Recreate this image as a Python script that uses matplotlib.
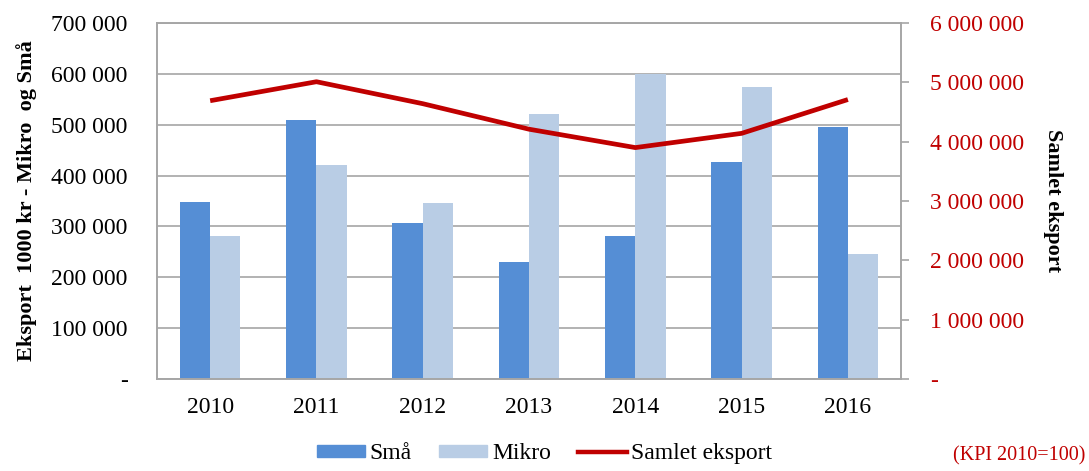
import matplotlib
matplotlib.use("Agg")
import matplotlib.pyplot as plt
import numpy as np
from matplotlib.ticker import FuncFormatter, FixedLocator
from matplotlib.patches import Patch
from matplotlib.lines import Line2D

years = ["2010", "2011", "2012", "2013", "2014", "2015", "2016"]
sma = [349000, 509000, 306000, 231000, 281000, 426000, 496000]
mikro = [282000, 420000, 346000, 521000, 600000, 575000, 245000]
samlet = [4690000, 5010000, 4640000, 4210000, 3900000, 4140000, 4710000]

plt.rcParams['font.family'] = ['Liberation Serif', 'DejaVu Serif']

C_SMA = "#558ED5"
C_MIKRO = "#B9CDE5"
C_LINE = "#C00000"
C_GRID = "#A6A6A6"

fig = plt.figure(figsize=(10.89, 4.71), dpi=100)
ax = fig.add_axes([0.1442, 0.1953, 0.6832, 0.7559])
ax2 = ax.twinx()

x = np.arange(len(years))
w = 0.285
ax.bar(x - w/2, sma, width=w, color=C_SMA, zorder=2)
ax.bar(x + w/2, mikro, width=w, color=C_MIKRO, zorder=2)
ax2.plot(x, samlet, color=C_LINE, lw=3.4, solid_capstyle='butt', zorder=3)

ax.set_xlim(-0.5, len(years) - 0.5)
ax.set_ylim(0, 700000)
ax2.set_ylim(0, 6000000)

def fmt(v, pos):
    if v == 0:
        return "-"
    return f"{int(round(v)):,}".replace(",", " ")

ax.yaxis.set_major_locator(FixedLocator(np.arange(0, 700001, 100000)))
ax2.yaxis.set_major_locator(FixedLocator(np.arange(0, 6000001, 1000000)))
ax.yaxis.set_major_formatter(FuncFormatter(fmt))
ax2.yaxis.set_major_formatter(FuncFormatter(fmt))

ax.set_xticks(x)
ax.set_xticklabels(years)
ax.grid(axis='y', color=C_GRID, lw=1.2, zorder=0)
ax.set_axisbelow(True)

for a in (ax, ax2):
    for s in a.spines.values():
        s.set_color(C_GRID)
        s.set_linewidth(1.2)

ax.tick_params(axis='x', length=0, labelsize=17, pad=13, colors='black')
ax.tick_params(axis='y', length=0, labelsize=17, pad=21, colors='black')
ax2.tick_params(axis='y', length=6, width=1.2, color=C_GRID, labelsize=17,
                pad=15, labelcolor=C_LINE)

ax.set_ylabel("Eksport  1000 kr - Mikro  og Små", fontsize=16, fontweight='bold',
              labelpad=10)
ax2.set_ylabel("Samlet eksport", fontsize=16, fontweight='bold', rotation=270,
               labelpad=28)

handles = [Patch(color=C_SMA), Patch(color=C_MIKRO),
           Line2D([0], [0], color=C_LINE, lw=3.2)]
fig.legend(handles, ["Små", "Mikro", "Samlet eksport"], loc='center',
           bbox_to_anchor=(0.5, 0.037), ncol=3, frameon=False, fontsize=17,
           handlelength=2.05, handleheight=0.4, handletextpad=0.2,
           columnspacing=1.15)

fig.text(0.997, 0.012, "(KPI 2010=100)", color=C_LINE, fontsize=14.5,
         ha='right', va='bottom')

fig.savefig("out.png", dpi=100)
